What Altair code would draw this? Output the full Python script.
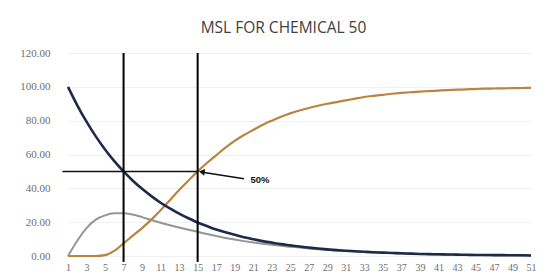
import altair as alt
import pandas as pd

cats = list(range(1, 52))
x_labels = list(range(1, 52, 2))
y_ticks = [0, 20, 40, 60, 80, 100, 120]

blue = [100, 89.1, 79.4, 70.7, 63.0, 56.1, 50.0, 44.5, 39.7, 35.4, 31.5, 28.1, 25.0, 22.3, 19.8,
        17.7, 15.7, 14.0, 12.5, 11.1, 9.9, 8.8, 7.9, 7.0, 6.3, 5.6, 5.0, 4.4, 3.9, 3.5, 3.1, 2.8,
        2.5, 2.2, 2.0, 1.8, 1.6, 1.4, 1.2, 1.1, 1.0, 0.9, 0.8, 0.7, 0.6, 0.6, 0.5, 0.5, 0.4, 0.4, 0.3]
orange = [0, 0, 0, 0, 0.5, 3, 7.5, 12, 16.5, 21.5, 27, 33, 39, 44.5, 50, 55, 59.5, 64, 68, 71.5,
          74.5, 77.5, 80, 82.3, 84.3, 86, 87.5, 88.8, 90, 91, 92, 93, 94, 94.7, 95.3, 95.9, 96.4,
          96.8, 97.2, 97.5, 97.8, 98.1, 98.3, 98.5, 98.7, 98.9, 99.0, 99.1, 99.2, 99.3, 99.4]
gray = [0, 9, 16.5, 21.5, 24, 25.2, 25.3, 24.5, 23, 21.3, 19.7, 18.2, 16.8, 15.5, 14.3, 13, 11.8,
        10.7, 9.7, 8.8, 8.0, 7.3, 6.6, 6.0, 5.5, 5.0, 4.5, 4.0, 3.6, 3.2, 2.9, 2.6, 2.3, 2.1, 1.9,
        1.7, 1.5, 1.3, 1.2, 1.0, 0.9, 0.8, 0.7, 0.6, 0.6, 0.5, 0.5, 0.4, 0.4, 0.3, 0.3]

vlines_x = [7, 15]
vline_y = [-3.5, 120]
hline = {"x": 0.4, "x2": 15, "y": 50}
arrow_tail = {"x": 20.0, "y": 45.6, "x2": 15.7, "y2": 49.4}
arrow_tip = {"x": 15.45, "y": 49.7}
label_50 = {"x": 20.7, "y": 45.2, "text": "50%"}

df = pd.DataFrame({"x": cats, "blue": blue, "orange": orange, "gray": gray})

xs = alt.Scale(domain=[1, 51], nice=False, zero=False)
ys = alt.Scale(domain=[0, 120], nice=False)

x_axis = alt.Axis(values=x_labels, grid=False, ticks=False, domain=False,
                  labelPadding=6, labelFlush=False, labelOverlap=False, labelFontSize=10)
y_axis = alt.Axis(values=y_ticks, format=".2f", ticks=False, domain=False,
                  grid=True, gridColor="#efefef", labelPadding=18, labelOverlap=False,
                  labelFontSize=11)


def XQ(field):
    return alt.X(field, scale=xs, title=None, axis=x_axis)


def YQ(field):
    return alt.Y(field, scale=ys, title=None, axis=y_axis)


base = alt.Chart(df)


def series(col, color, width):
    return base.transform_calculate(v=f"datum.{col}").mark_line(
        color=color, strokeWidth=width, interpolate="monotone").encode(x=XQ("x:Q"), y=YQ("v:Q"))


gray_l = series("gray", "#959595", 2)
orange_l = series("orange", "#b98440", 2.2)
blue_l = series("blue", "#1d2b4b", 2.6)

vdf = pd.DataFrame({"x": vlines_x, "y": [vline_y[0]] * 2, "y2": [vline_y[1]] * 2})
vrules = alt.Chart(vdf).mark_rule(color="black", strokeWidth=2).encode(
    x=XQ("x:Q"), y=YQ("y:Q"), y2="y2:Q")

hdf = pd.DataFrame([hline])
hrule = alt.Chart(hdf).mark_rule(color="#111111", strokeWidth=1.5).encode(
    x=XQ("x:Q"), x2="x2:Q", y=YQ("y:Q"))

adf = pd.DataFrame([arrow_tail])
arrow_line = alt.Chart(adf).mark_rule(color="#111111", strokeWidth=1.5).encode(
    x=XQ("x:Q"), x2="x2:Q", y=YQ("y:Q"), y2="y2:Q")

tdf = pd.DataFrame([arrow_tip])
arrow_head = alt.Chart(tdf).mark_point(shape="triangle-left", filled=True, color="#111111",
                                       size=45, angle=8, opacity=1).encode(
    x=XQ("x:Q"), y=YQ("y:Q"))

ldf = pd.DataFrame([label_50])
txt = alt.Chart(ldf).mark_text(align="left", baseline="middle", font="Liberation Sans",
                               fontSize=9.5, fontWeight="bold", color="#111111").encode(
    x=XQ("x:Q"), y=YQ("y:Q"), text="text:N")

chart = alt.layer(gray_l, orange_l, blue_l, vrules, hrule, arrow_line, arrow_head, txt).properties(
    width=463, height=203,
    title=alt.TitleParams("MSL FOR CHEMICAL 50", font="Open Sans", fontSize=15.5,
                          fontWeight="normal", color="#404040", anchor="middle", dx=-16, offset=11),
    autosize=alt.AutoSizeParams(type="none"),
    padding={"left": 60, "top": 45, "right": 6, "bottom": 15},
    background="white",
).configure_view(stroke=None).configure_axis(
    labelFont="Liberation Serif", labelColor="#6e6e6e"
)

chart.save("out.html", embed_options={"renderer": "svg", "actions": False})
